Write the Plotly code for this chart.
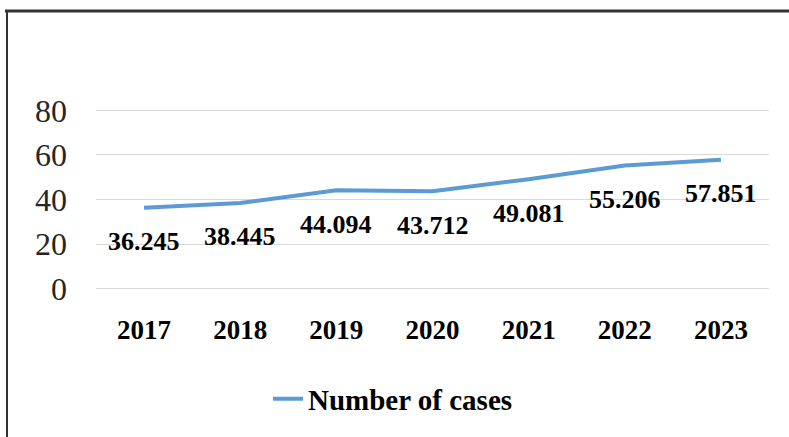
import plotly.graph_objects as go

years = ["2017", "2018", "2019", "2020", "2021", "2022", "2023"]
cases = [36.245, 38.445, 44.094, 43.712, 49.081, 55.206, 57.851]
y_ticks = [0, 20, 40, 60, 80]
series_name = "Number of cases"

W, H = 789, 437
ml, mr, mt, mb = 96, 20, 109, 145
pw = W - ml - mr
ph = H - mt - mb

def px_x(p):
    return (p - ml) / pw

def px_y(p):
    return (H - mb - p) / ph

serif = "Liberation Serif, Times New Roman, serif"

fig = go.Figure()
fig.add_trace(go.Scatter(
    x=years, y=cases, mode="lines", name=series_name,
    line=dict(color="#5B9BD5", width=4),
))

for i, v in enumerate(cases):
    fig.add_annotation(
        x=i, y=v, xref="x", yref="y", text=f"<b>{v:.3f}</b>",
        showarrow=False, yshift=-34,
        font=dict(family=serif, size=26, color="#000000"),
    )

fig.update_layout(
    width=W, height=H,
    margin=dict(l=ml, r=mr, t=mt, b=mb, pad=0),
    paper_bgcolor="white", plot_bgcolor="white",
    showlegend=True,
    legend=dict(
        orientation="h", x=px_x(393), xanchor="center",
        y=px_y(402), yanchor="middle",
        font=dict(family=serif, size=29, color="#000000", weight="bold"),
        itemwidth=30, bgcolor="rgba(0,0,0,0)",
    ),
    xaxis=dict(
        type="category", range=[-0.5, 6.5], showgrid=False, showline=False,
        zeroline=False, ticks="", ticklabelstandoff=21,
        tickfont=dict(family=serif, size=27, color="#000000", weight="bold"),
    ),
    yaxis=dict(
        range=[-0.6, 80.6], tickvals=y_ticks, showgrid=True, gridcolor="#D9D9D9",
        gridwidth=1, zeroline=False, showline=False, ticks="",
        ticklabelstandoff=28,
        tickfont=dict(family=serif, size=32, color="#262626"),
    ),
    shapes=[
        dict(type="line", xref="paper", yref="paper",
             x0=px_x(5), x1=px_x(W + 5), y0=px_y(10), y1=px_y(10),
             line=dict(color="#333333", width=3)),
        dict(type="line", xref="paper", yref="paper",
             x0=px_x(7), x1=px_x(7), y0=px_y(9), y1=px_y(H + 5),
             line=dict(color="#333333", width=2)),
    ],
)

fig.write_html(
    "out.html",
    config={"displayModeBar": False},
    post_script="document.body.style.margin='0';document.body.style.overflow='hidden';",
)
